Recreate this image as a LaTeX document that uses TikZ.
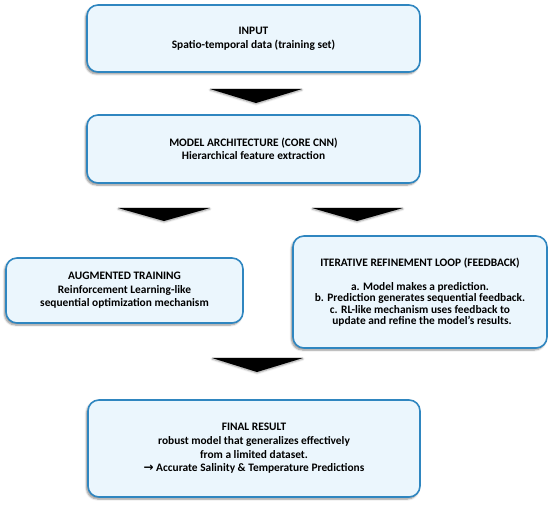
\documentclass[tikz,border=0pt]{standalone}
\usepackage{fontspec}
\setmainfont{Carlito}
\newfontfamily\symfont{DejaVu Sans}
\usetikzlibrary{shadows.blur}
\definecolor{boxfill}{HTML}{EBF6FD}
\definecolor{boxline}{HTML}{2F86C0}
\tikzset{
  box/.style={draw=boxline, line width=1.6pt, fill=boxfill, rounded corners=11pt,
    align=center, font=\fontsize{11.4}{13.6}\selectfont\bfseries, inner sep=0pt,
    blur shadow={shadow xshift=-1.5pt, shadow yshift=-2pt, shadow blur steps=6, shadow opacity=45}},
  tri/.style={fill=black, draw=none,
    blur shadow={shadow xshift=0pt, shadow yshift=-1pt, shadow blur steps=4, shadow opacity=40}}
}
\begin{document}
\begin{tikzpicture}[x=1pt,y=-1pt]
\useasboundingbox (0,0) rectangle (550,508);
\node[box, minimum width=333pt, minimum height=67pt] (input) at (253.5,38.5)
  {INPUT\\Spatio-temporal data (training set)};
\node[box, minimum width=333pt, minimum height=68pt] (model) at (253.5,149)
  {MODEL ARCHITECTURE (CORE CNN)\\Hierarchical feature extraction};
\node[box, minimum width=237pt, minimum height=65pt] (aug) at (124.5,290.5)
  {AUGMENTED TRAINING\\Reinforcement Learning-like\\sequential optimization mechanism};
\node[box, minimum width=254pt, minimum height=112pt,
  font=\fontsize{11.4}{11.5}\selectfont\bfseries] (loop) at (420,292)
  {ITERATIVE REFINEMENT LOOP (FEEDBACK)\\[12.5pt]a. Model makes a prediction.\\b. Prediction generates sequential feedback.\\c. RL-like mechanism uses feedback to\\\hspace*{4pt}update and refine the model’s results.};
\node[box, minimum width=332pt, minimum height=97pt] (final) at (254,448.5)
  {FINAL RESULT\\robust model that generalizes effectively\\from a limited dataset.\\\raisebox{0.3pt}{\symfont\fontsize{12}{13.6}\selectfont\bfseries →} Accurate Salinity \& Temperature Predictions};
% triangular arrows
\fill[tri] (210,89) -- (302,89) -- (256,103) -- cycle;
\fill[tri] (118,208) -- (210,208) -- (164,221) -- cycle;
\fill[tri] (312,208) -- (403,208) -- (357,221) -- cycle;
\fill[tri] (212,358) -- (303,358) -- (257,372) -- cycle;
\end{tikzpicture}
\end{document}
